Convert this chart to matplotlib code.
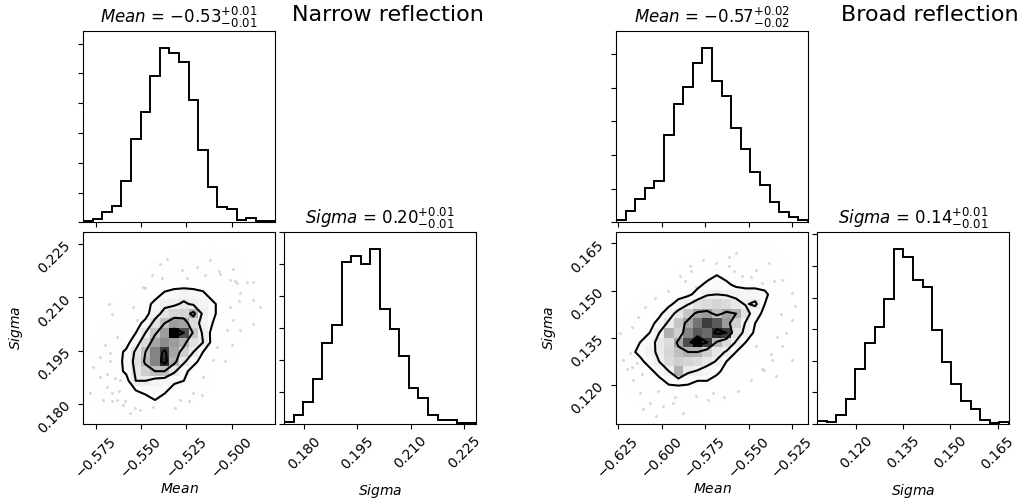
import numpy as np
import matplotlib
matplotlib.use("Agg")
import matplotlib.pyplot as plt
from matplotlib.colors import LinearSegmentedColormap
from matplotlib.ticker import MultipleLocator, NullFormatter

# ---------------- narrow reflection ----------------
narrow_mean_range = (-0.582, -0.476)
narrow_sigma_range = (0.1743, 0.2284)
narrow_mean_counts = [2, 6, 17, 27, 70, 140, 186, 246, 292, 284,
                      269, 206, 121, 59, 26, 23, 4, 7, 2, 3]
narrow_sigma_counts = [3, 14, 34, 70, 126, 155, 253, 263, 250, 273,
                       180, 149, 107, 56, 41, 14, 6, 6, 1, 1]
# 2d counts, rows from high Sigma (top) down to low Sigma, columns Mean low -> high
narrow_grid = [
    [0, 0, 0, 0, 0, 0, 0, 0, 0, 0, 0, 0, 0, 0, 0, 0, 0, 0, 0, 0],
    [0, 0, 0, 0, 0, 0, 0, 0, 0, 0, 0, 1, 0, 1, 0, 0, 0, 0, 0, 0],
    [0, 0, 0, 0, 0, 0, 0, 0, 0, 1, 1, 1, 1, 1, 1, 1, 0, 0, 0, 0],
    [0, 0, 0, 0, 0, 0, 0, 1, 1, 2, 2, 2, 2, 2, 2, 1, 1, 0, 0, 0],
    [0, 0, 0, 0, 0, 0, 1, 2, 2, 2, 3, 3, 3, 2, 2, 2, 1, 0, 0, 0],
    [0, 0, 0, 0, 0, 1, 2, 2, 3, 4, 4, 4, 4, 3, 2, 2, 1, 1, 0, 0],
    [0, 0, 0, 0, 1, 2, 3, 4, 10, 13, 15, 13, 10, 4, 3, 2, 1, 1, 0, 0],
    [0, 0, 0, 1, 2, 2, 4, 11, 17, 18, 22, 18, 15, 10, 4, 2, 1, 1, 0, 0],
    [0, 0, 0, 1, 2, 3, 4, 15, 24, 29, 29, 40, 17, 10, 4, 2, 1, 1, 0, 0],
    [0, 0, 1, 2, 2, 4, 11, 24, 36, 45, 43, 27, 15, 8, 3, 2, 1, 0, 0, 0],
    [0, 0, 1, 2, 3, 8, 20, 34, 45, 72, 60, 34, 18, 4, 3, 1, 1, 0, 0, 0],
    [0, 1, 2, 3, 4, 15, 27, 43, 48, 45, 40, 24, 20, 4, 2, 1, 0, 0, 0, 0],
    [0, 1, 2, 4, 10, 22, 36, 50, 63, 43, 31, 20, 8, 3, 1, 1, 0, 0, 0, 0],
    [0, 1, 2, 4, 11, 24, 38, 50, 66, 40, 22, 11, 4, 2, 1, 0, 0, 0, 0, 0],
    [1, 1, 2, 4, 10, 22, 31, 36, 36, 22, 11, 4, 2, 1, 0, 0, 0, 0, 0, 0],
    [1, 1, 2, 3, 4, 20, 20, 15, 13, 10, 8, 3, 2, 1, 0, 0, 0, 0, 0, 0],
    [0, 1, 2, 2, 4, 8, 11, 11, 10, 4, 2, 2, 1, 0, 0, 0, 0, 0, 0, 0],
    [0, 1, 1, 2, 2, 3, 4, 8, 4, 2, 2, 1, 0, 0, 0, 0, 0, 0, 0, 0],
    [0, 0, 1, 1, 2, 2, 2, 2, 1, 1, 0, 0, 0, 0, 0, 0, 0, 0, 0, 0],
    [0, 0, 0, 0, 1, 1, 1, 1, 0, 0, 0, 0, 0, 0, 0, 0, 0, 0, 0, 0],
]
# stray samples outside the outer contour
narrow_pts_mean = [-0.5358, -0.5276, -0.5193, -0.5119, -0.5064, -0.5009, -0.4972, -0.4917,
                   -0.4880, -0.4990, -0.5395, -0.5248, -0.4954, -0.4880, -0.4843, -0.5009,
                   -0.4990, -0.4954, -0.5027, -0.5082, -0.5101, -0.5156, -0.5211, -0.5763,
                   -0.5726, -0.5690, -0.5662, -0.5634, -0.5597, -0.5505, -0.5432, -0.5726,
                   -0.5671, -0.5634, -0.5524, -0.5542, -0.5487, -0.5782, -0.5708, -0.5561,
                   -0.5616, -0.5285, -0.4880,
                   -0.5678, -0.5660, -0.5697, -0.5669, -0.5688, -0.5642, -0.5623, -0.5587,
                   -0.5531, -0.5660, -0.4979, -0.4961, -0.4998, -0.5035, -0.5163, -0.5237,
                   -0.5311, -0.5384, -0.5439, -0.5476, -0.5145, -0.5071]
narrow_pts_sigma = [0.2209, 0.2176, 0.2186, 0.2204, 0.2167, 0.2148, 0.2139, 0.2143,
                    0.2143, 0.2181, 0.2195, 0.2153, 0.2111, 0.2092, 0.2073, 0.2073,
                    0.2035, 0.2007, 0.2007, 0.1961, 0.1923, 0.1876, 0.1829, 0.1904,
                    0.1876, 0.1848, 0.1829, 0.1810, 0.1796, 0.1782, 0.1792, 0.1932,
                    0.1942, 0.1989, 0.2035, 0.2073, 0.2129, 0.1829, 0.1810, 0.1773,
                    0.1867, 0.1810, 0.2026,
                    0.2080, 0.2052, 0.1967, 0.1920, 0.1883, 0.1873, 0.1836, 0.1808,
                    0.1789, 0.1808, 0.2145, 0.2089, 0.1967, 0.1920, 0.1826, 0.1808,
                    0.1789, 0.2155, 0.2164, 0.2126, 0.2164, 0.2173]
narrow_titles = [r"$Mean$ = ${-0.53}_{-0.01}^{+0.01}$", r"$Sigma$ = ${0.20}_{-0.01}^{+0.01}$"]

# ---------------- broad reflection ----------------
broad_mean_range = (-0.6263, -0.5159)
broad_sigma_range = (0.1077, 0.1686)
broad_mean_counts = [4, 17, 35, 51, 62, 129, 175, 201, 236, 258,
                     210, 188, 140, 109, 75, 55, 30, 16, 8, 3]
broad_sigma_counts = [5, 3, 14, 40, 87, 128, 153, 197, 276, 264,
                      227, 216, 149, 98, 63, 37, 23, 6, 2, 3]
broad_grid = [
    [0, 0, 0, 0, 0, 0, 0, 0, 0, 0, 0, 0, 0, 0, 0, 0, 0, 0, 0, 0],
    [0, 0, 0, 0, 0, 0, 0, 0, 0, 0, 1, 0, 1, 0, 1, 1, 0, 0, 0, 0],
    [0, 0, 0, 0, 0, 0, 0, 0, 0, 1, 2, 2, 2, 2, 2, 1, 1, 0, 0, 0],
    [0, 0, 0, 0, 0, 0, 0, 1, 2, 3, 3, 3, 3, 3, 2, 2, 2, 1, 0, 0],
    [0, 0, 0, 0, 0, 0, 2, 3, 4, 5, 8, 5, 4, 4, 4, 3, 3, 2, 0, 0],
    [0, 0, 0, 0, 0, 2, 3, 5, 6, 10, 11, 10, 6, 5, 5, 5, 3, 2, 0, 0],
    [0, 0, 0, 2, 3, 4, 5, 6, 11, 17, 18, 17, 15, 13, 13, 10, 4, 2, 0, 0],
    [0, 0, 2, 3, 4, 6, 11, 17, 24, 27, 29, 27, 22, 17, 20, 8, 3, 1, 0, 0],
    [0, 2, 3, 4, 6, 13, 22, 34, 43, 45, 36, 43, 40, 24, 11, 6, 3, 0, 0, 0],
    [2, 3, 4, 5, 11, 20, 34, 43, 53, 63, 58, 45, 31, 17, 8, 3, 2, 0, 0, 0],
    [2, 3, 5, 8, 18, 40, 31, 50, 58, 55, 66, 63, 24, 15, 6, 3, 1, 0, 0, 0],
    [3, 4, 8, 13, 22, 27, 43, 60, 72, 63, 38, 27, 17, 8, 4, 2, 0, 0, 0, 0],
    [3, 6, 10, 15, 20, 29, 36, 40, 40, 31, 22, 17, 8, 4, 2, 1, 0, 0, 0, 0],
    [2, 4, 6, 11, 18, 27, 31, 29, 27, 22, 17, 8, 4, 3, 1, 0, 0, 0, 0, 0],
    [2, 3, 4, 6, 11, 18, 40, 20, 17, 13, 10, 5, 3, 2, 0, 0, 0, 0, 0, 0],
    [1, 2, 3, 4, 6, 10, 11, 10, 8, 8, 5, 3, 2, 0, 0, 0, 0, 0, 0, 0],
    [0, 1, 2, 3, 4, 5, 5, 5, 4, 3, 2, 1, 0, 0, 0, 0, 0, 0, 0, 0],
    [0, 0, 1, 2, 2, 3, 3, 3, 2, 2, 1, 0, 0, 0, 0, 0, 0, 0, 0, 0],
    [0, 0, 0, 1, 1, 2, 2, 1, 1, 0, 0, 0, 0, 0, 0, 0, 0, 0, 0, 0],
    [0, 0, 0, 0, 0, 1, 1, 0, 0, 0, 0, 0, 0, 0, 0, 0, 0, 0, 0, 0],
]
broad_pts_mean = [-0.5897, -0.5840, -0.5764, -0.5688, -0.5612, -0.5574, -0.5536, -0.5459,
                  -0.5421, -0.5383, -0.5307, -0.5250, -0.5231, -0.5250, -0.5288, -0.5307,
                  -0.5364, -0.5421, -0.5345, -0.5459, -0.5250, -0.5612, -0.5802, -0.5859,
                  -0.6183, -0.6202, -0.6164, -0.6126, -0.6069, -0.5993, -0.5936, -0.5879,
                  -0.6031, -0.6107, -0.6145, -0.6069, -0.6012, -0.5955, -0.6221, -0.6240,
                  -0.5802, -0.5707,
                  -0.6173, -0.6136, -0.6097, -0.6040, -0.5964, -0.5869, -0.5831, -0.5583,
                  -0.5488, -0.5355, -0.5316, -0.5336, -0.5373, -0.5412, -0.5488, -0.5564,
                  -0.5640, -0.5736, -0.5926, -0.6021, -0.6116, -0.6173]
broad_pts_sigma = [0.1545, 0.1577, 0.1598, 0.1587, 0.1577, 0.1619, 0.1545, 0.1566,
                   0.1524, 0.1587, 0.1534, 0.1492, 0.1450, 0.1408, 0.1366, 0.1323,
                   0.1281, 0.1250, 0.1229, 0.1323, 0.1281, 0.1608, 0.1513, 0.1482,
                   0.1302, 0.1250, 0.1218, 0.1176, 0.1144, 0.1134, 0.1144, 0.1113,
                   0.1102, 0.1123, 0.1271, 0.1366, 0.1408, 0.1440, 0.1281, 0.1366,
                   0.1165, 0.1176,
                   0.1384, 0.1415, 0.1447, 0.1478, 0.1500, 0.1531, 0.1563, 0.1563,
                   0.1542, 0.1531, 0.1426, 0.1352, 0.1299, 0.1247, 0.1215, 0.1183,
                   0.1162, 0.1152, 0.1162, 0.1183, 0.1236, 0.1257]
broad_titles = [r"$Mean$ = ${-0.57}_{-0.02}^{+0.02}$", r"$Sigma$ = ${0.14}_{-0.01}^{+0.01}$"]

labels = [r"$Mean$", r"$Sigma$"]
levels = 1.0 - np.exp(-0.5 * np.arange(0.5, 2.1, 0.5) ** 2)

W, H = 1024, 498
fig = plt.figure(figsize=(W / 100, H / 100), dpi=100)


def px_axes(x0, y0, x1, y1):
    return fig.add_axes([x0 / W, 1 - y1 / H, (x1 - x0) / W, (y1 - y0) / H])


def hist1d(ax, counts, rng, title):
    edges = np.linspace(rng[0], rng[1], len(counts) + 1)
    ax.stairs(counts, edges, color="k", lw=1.4)
    ax.set_xlim(rng)
    ax.set_ylim(0, 1.1 * max(counts))
    ax.yaxis.set_major_locator(MultipleLocator(50))
    ax.yaxis.set_major_formatter(NullFormatter())
    ax.set_title(title, fontsize=12)


def hist2d(ax, grid, xr, yr, px, py):
    Hc = np.array(grid, float)[::-1].T  # H[x, y]
    X = np.linspace(xr[0], xr[1], Hc.shape[0] + 1)
    Y = np.linspace(yr[0], yr[1], Hc.shape[1] + 1)

    # contour levels enclosing given mass fractions (as corner does)
    Hflat = Hc.flatten()
    Hflat = Hflat[np.argsort(Hflat)[::-1]]
    sm = np.cumsum(Hflat)
    sm /= sm[-1]
    V = np.empty(len(levels))
    for i, v0 in enumerate(levels):
        try:
            V[i] = Hflat[sm <= v0][-1]
        except IndexError:
            V[i] = Hflat[0]
    V.sort()
    m = np.diff(V) == 0
    while np.any(m):
        V[np.where(m)[0][0]] *= 1.0 - 1e-4
        m = np.diff(V) == 0
    V.sort()

    X1, Y1 = 0.5 * (X[1:] + X[:-1]), 0.5 * (Y[1:] + Y[:-1])
    H2 = Hc.min() + np.zeros((Hc.shape[0] + 4, Hc.shape[1] + 4))
    H2[2:-2, 2:-2] = Hc
    H2[2:-2, 1] = Hc[:, 0]
    H2[2:-2, -2] = Hc[:, -1]
    H2[1, 2:-2] = Hc[0]
    H2[-2, 2:-2] = Hc[-1]
    X2 = np.concatenate([X1[0] + np.array([-2, -1]) * np.diff(X1[:2]), X1,
                         X1[-1] + np.array([1, 2]) * np.diff(X1[-2:])])
    Y2 = np.concatenate([Y1[0] + np.array([-2, -1]) * np.diff(Y1[:2]), Y1,
                         Y1[-1] + np.array([1, 2]) * np.diff(Y1[-2:])])

    ax.plot(px, py, "o", color="k", ms=2.2, mec="none", alpha=0.15, zorder=-1)
    white = LinearSegmentedColormap.from_list("white_cmap", [(1, 1, 1), (1, 1, 1)], N=2)
    ax.contourf(X2, Y2, H2.T, [V.min(), Hc.max()], cmap=white, antialiased=False)
    dens = LinearSegmentedColormap.from_list("density_cmap", ["k", (1, 1, 1, 0)])
    ax.pcolormesh(X, Y, Hc.max() - Hc.T, cmap=dens, shading="flat", antialiased=False)
    ax.contour(X2, Y2, H2.T, V, colors="k", linewidths=1.5)
    ax.set_xlim(xr)
    ax.set_ylim(yr)


def corner_block(x0, mean_counts, sigma_counts, grid, mr, sr, pm, ps, titles, xstep, ystep):
    s, g = 192, 9
    ax_top = px_axes(x0, 31, x0 + s, 31 + s - 0.5)
    ax_2d = px_axes(x0, 232, x0 + s, 232 + s)
    ax_side = px_axes(x0 + s + g, 232, x0 + 2 * s + g, 232 + s)

    hist1d(ax_top, mean_counts, mr, titles[0])
    hist1d(ax_side, sigma_counts, sr, titles[1])
    hist2d(ax_2d, grid, mr, sr, pm, ps)

    for ax in (ax_top, ax_2d):
        ax.xaxis.set_major_locator(MultipleLocator(xstep))
    ax_top.xaxis.set_major_formatter(NullFormatter())
    ax_2d.yaxis.set_major_locator(MultipleLocator(ystep))
    ax_side.xaxis.set_major_locator(MultipleLocator(ystep))

    for ax in (ax_2d, ax_side):
        for lab in ax.get_xticklabels():
            lab.set_rotation(45)
    for lab in ax_2d.get_yticklabels():
        lab.set_rotation(45)

    ax_2d.set_xlabel(labels[0], fontsize=10)
    ax_2d.set_ylabel(labels[1], fontsize=10)
    ax_side.set_xlabel(labels[1], fontsize=10)
    ax_2d.xaxis.set_label_coords(0.5, -0.3)
    ax_2d.yaxis.set_label_coords(-0.3, 0.5)
    ax_side.xaxis.set_label_coords(0.5, -0.3)


corner_block(83, narrow_mean_counts, narrow_sigma_counts, narrow_grid,
             narrow_mean_range, narrow_sigma_range, narrow_pts_mean, narrow_pts_sigma,
             narrow_titles, 0.025, 0.015)
corner_block(616, broad_mean_counts, broad_sigma_counts, broad_grid,
             broad_mean_range, broad_sigma_range, broad_pts_mean, broad_pts_sigma,
             broad_titles, 0.025, 0.015)

fig.text(292 / W, 1 - 5 / H, "Narrow reflection", fontsize=16, va="top", ha="left")
fig.text(841 / W, 1 - 5 / H, "Broad reflection", fontsize=16, va="top", ha="left")

fig.savefig("out.png", dpi=100)
